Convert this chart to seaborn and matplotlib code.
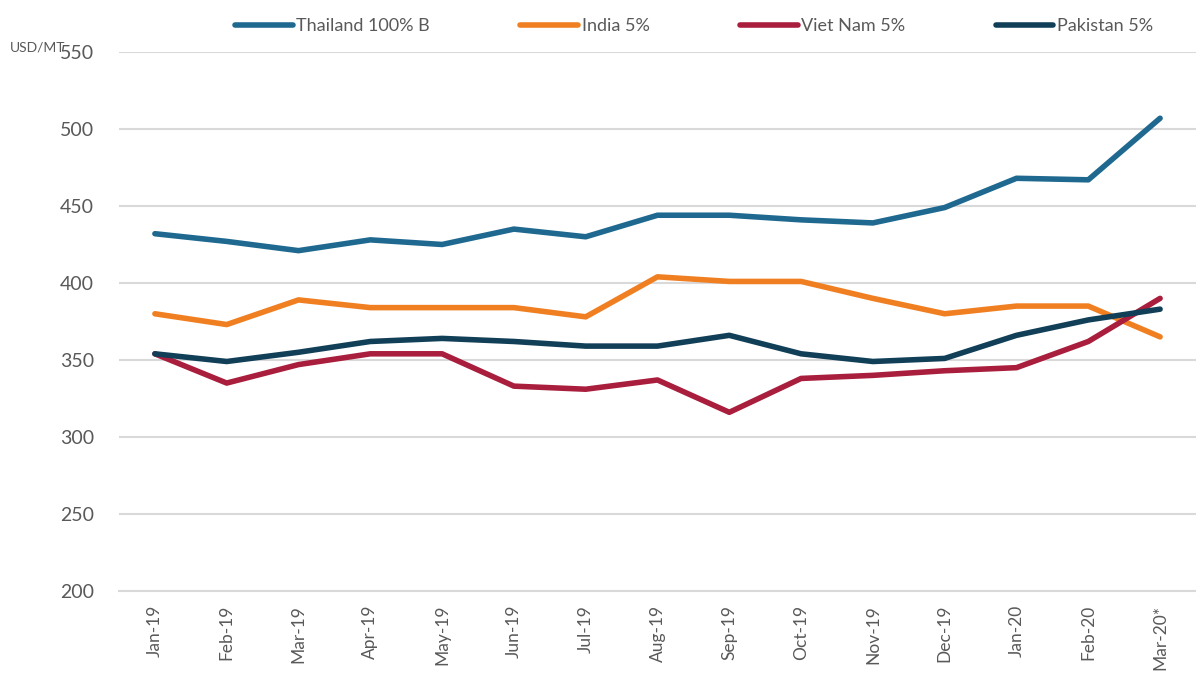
import matplotlib
matplotlib.use("Agg")
import matplotlib.pyplot as plt
import pandas as pd
import numpy as np
import seaborn as sns

months = ["Jan-19", "Feb-19", "Mar-19", "Apr-19", "May-19", "Jun-19", "Jul-19",
          "Aug-19", "Sep-19", "Oct-19", "Nov-19", "Dec-19", "Jan-20", "Feb-20", "Mar-20*"]

thailand = [432, 427, 421, 428, 425, 435, 430, 444, 444, 441, 439, 449, 468, 467, 507]
india = [380, 373, 389, 384, 384, 384, 378, 404, 401, 401, 390, 380, 385, 385, 365]
vietnam = [354, 335, 347, 354, 354, 333, 331, 337, 316, 338, 340, 343, 345, 362, 390]
pakistan = [354, 349, 355, 362, 364, 362, 359, 359, 366, 354, 349, 351, 366, 376, 383]

series = ["Thailand 100% B", "India 5%", "Viet Nam 5%", "Pakistan 5%"]
colors = ["#1F6990", "#F07F21", "#A91E3C", "#123F58"]

rows = []
for name, vals in zip(series, [thailand, india, vietnam, pakistan]):
    for i, v in enumerate(vals):
        rows.append({"pos": i, "month": months[i], "price": v, "series": name})
df = pd.DataFrame(rows)

sns.set_style("white")
plt.rcParams["font.family"] = ["Lato", "DejaVu Sans"]

fig = plt.figure(figsize=(11.96, 6.8), dpi=100)
ax = fig.add_axes([0.0995, 0.131, 0.9005, 0.7925])

sns.lineplot(data=df, x="pos", y="price", hue="series", hue_order=series,
             palette=colors, linewidth=4, ax=ax, legend=True,
             solid_capstyle="round")

ax.set_xlim(-0.5, len(months) - 0.5)
ax.set_ylim(200, 550)
ax.set_yticks(np.arange(200, 551, 50))
ax.yaxis.grid(True, color="#D9D9D9", linewidth=1.5)
ax.set_axisbelow(True)
for s in ["top", "right", "left"]:
    ax.spines[s].set_visible(False)
ax.spines["bottom"].set_color("#D9D9D9")
ax.spines["bottom"].set_linewidth(1.5)

ax.set_xticks(range(len(months)))
ax.set_xticklabels(months, rotation=90, fontsize=12.5, color="#595959")
ax.set_xticks(np.arange(-0.5, len(months), 1), minor=True)
ax.tick_params(axis="x", which="major", length=0, pad=10)
ax.tick_params(axis="x", which="minor", length=7, color="#D9D9D9", width=1.5)
ax.tick_params(axis="y", length=0, labelsize=14, labelcolor="#595959", pad=18)
ax.set_xlabel("")
ax.set_ylabel("")

fig.text(0.008, 0.925, "USD/MT", fontsize=10, color="#595959")

handles, labels = ax.get_legend_handles_labels()
ax.legend(handles, labels, loc="lower center", bbox_to_anchor=(0.534, 1.0),
          ncol=4, frameon=False, fontsize=13, handlelength=3.2,
          handletextpad=0.2, columnspacing=5.0, labelcolor="#595959",
          borderaxespad=0.6)

fig.savefig("out.png", dpi=100)
